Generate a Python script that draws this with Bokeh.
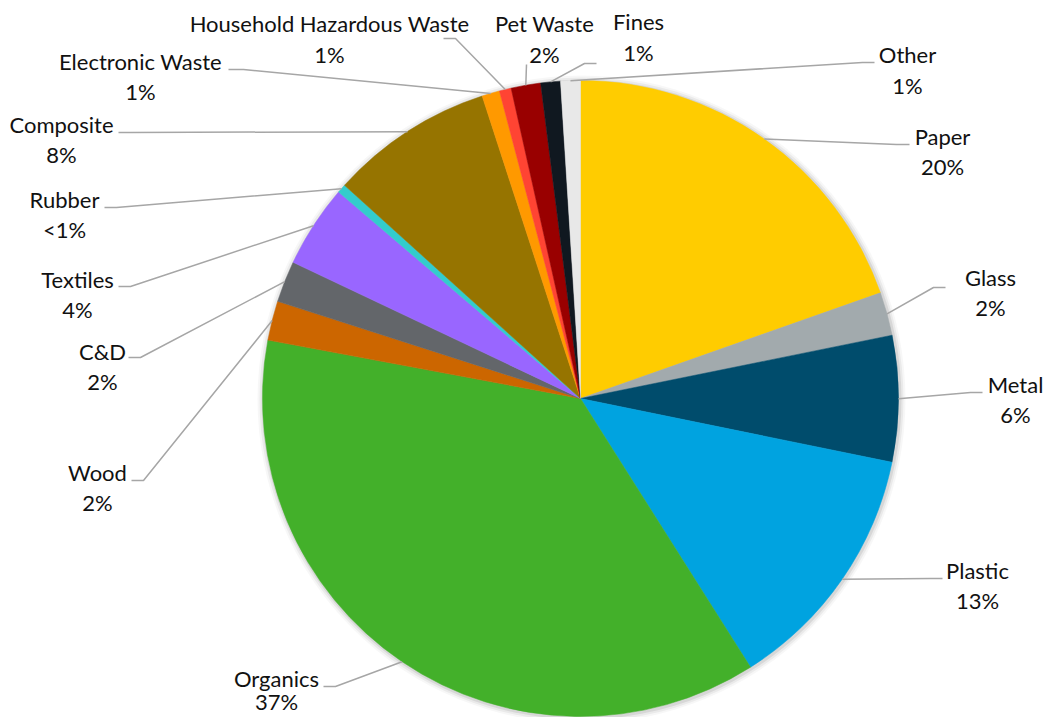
import math
from bokeh.plotting import figure
from bokeh.models import Range1d, ColumnDataSource
from bokeh.core.properties import value
from bokeh.embed import file_html
from bokeh.resources import INLINE

# ---- data ----
categories = ["Paper", "Glass", "Metal", "Plastic", "Organics", "Wood", "C&D",
              "Textiles", "Rubber", "Composite", "Electronic Waste",
              "Household Hazardous Waste", "Pet Waste", "Fines", "Other"]
shares = [19.6, 2.2, 6.4, 12.8, 36.9, 2.0, 2.1, 4.2, 0.45, 8.3, 0.9, 0.6, 1.5, 1.0, 1.0]
pct_labels = ["20%", "2%", "6%", "13%", "37%", "2%", "2%", "4%", "<1%", "8%",
              "1%", "1%", "2%", "1%", "1%"]
colors = ["#FFCC00", "#A2AAAD", "#004C6C", "#00A3E0", "#43B02A", "#CC6600",
          "#63666A", "#9966FF", "#33CCCC", "#967400", "#FF9900", "#FF4433",
          "#990000", "#101820", "#E8E8E8"]

# ---- layout (pixel coordinates, y measured from top) ----
W, H = 1045, 717
CX, CY, R = 580, 398, 318
label_x = [942, 990, 1015, 977, 276, 97, 102, 77, 64, 61, 140, 329, 544, 638, 907]
label_y = [136, 277, 384, 570, 678, 472, 351, 279, 199, 124, 61, 23, 23, 21, 54]
pct_y = [166, 307, 414, 600, 701, 502, 381, 309, 229, 154, 91, 54, 54, 52, 85]
# leader start point (next to text) and stub end
lead_start = [(909, 144), (945, 287), (982, 392), (942, 578), (323, 686),
              (131, 480), (128, 357), (118, 286), (104, 207), (118, 132),
              (228, 69), (443, 38), (526, 64), (596, 63), (874, 62)]
lead_elbow = [(896, 144), (933, 287), (970, 392), (930, 578), (335, 686),
              (143, 480), (140, 357), (130, 286), (116, 207), (130, 132),
              (243, 69), (455, 38), (526, 64), (584, 63), (862, 62)]

def Y(py):
    return H - py

total = sum(shares)
starts, ends, mids = [], [], []
acc = 0.0
for s in shares:
    t0 = acc / total * 2 * math.pi
    acc += s
    t1 = acc / total * 2 * math.pi
    starts.append(math.pi / 2 - t0)
    ends.append(math.pi / 2 - t1)
    mids.append((t0 + t1) / 2)

p = figure(width=W, height=H, output_backend="svg", toolbar_location=None,
           x_range=Range1d(0, W), y_range=Range1d(0, H), min_border=0)
p.axis.visible = False
p.grid.visible = False
p.outline_line_color = None
p.background_fill_color = "white"
p.border_fill_color = "white"

# soft shadow
for k, a in [(6, 0.03), (4, 0.05), (2, 0.08)]:
    p.circle(x=CX + 1, y=Y(CY + 1), radius=R + k, fill_color="#000000",
             fill_alpha=a, line_color=None)

src = ColumnDataSource(dict(start=starts, end=ends, color=colors))
p.wedge(x=CX, y=Y(CY), radius=R, start_angle="start", end_angle="end",
        direction="clock", fill_color="color", line_color="color",
        line_width=0.5, source=src)

# leader lines
xs, ys = [], []
for i, m in enumerate(mids):
    ex = CX + R * math.sin(m)
    ey = CY - R * math.cos(m)
    sx, sy = lead_start[i]
    bx, by = lead_elbow[i]
    xs.append([sx, bx, ex])
    ys.append([Y(sy), Y(by), Y(ey)])
p.multi_line(xs=xs, ys=ys, line_color="#A6A6A6", line_width=1.5)

# labels
p.text(x=label_x, y=[Y(v) for v in label_y], text=categories,
       text_align="center", text_baseline="middle",
       text_font=value("Lato"), text_font_size="22px", text_color="#111111")
p.text(x=label_x, y=[Y(v) for v in pct_y], text=pct_labels,
       text_align="center", text_baseline="middle",
       text_font=value("Lato"), text_font_size="22px", text_color="#111111")

open("out.html", "w").write(file_html(p, INLINE))
